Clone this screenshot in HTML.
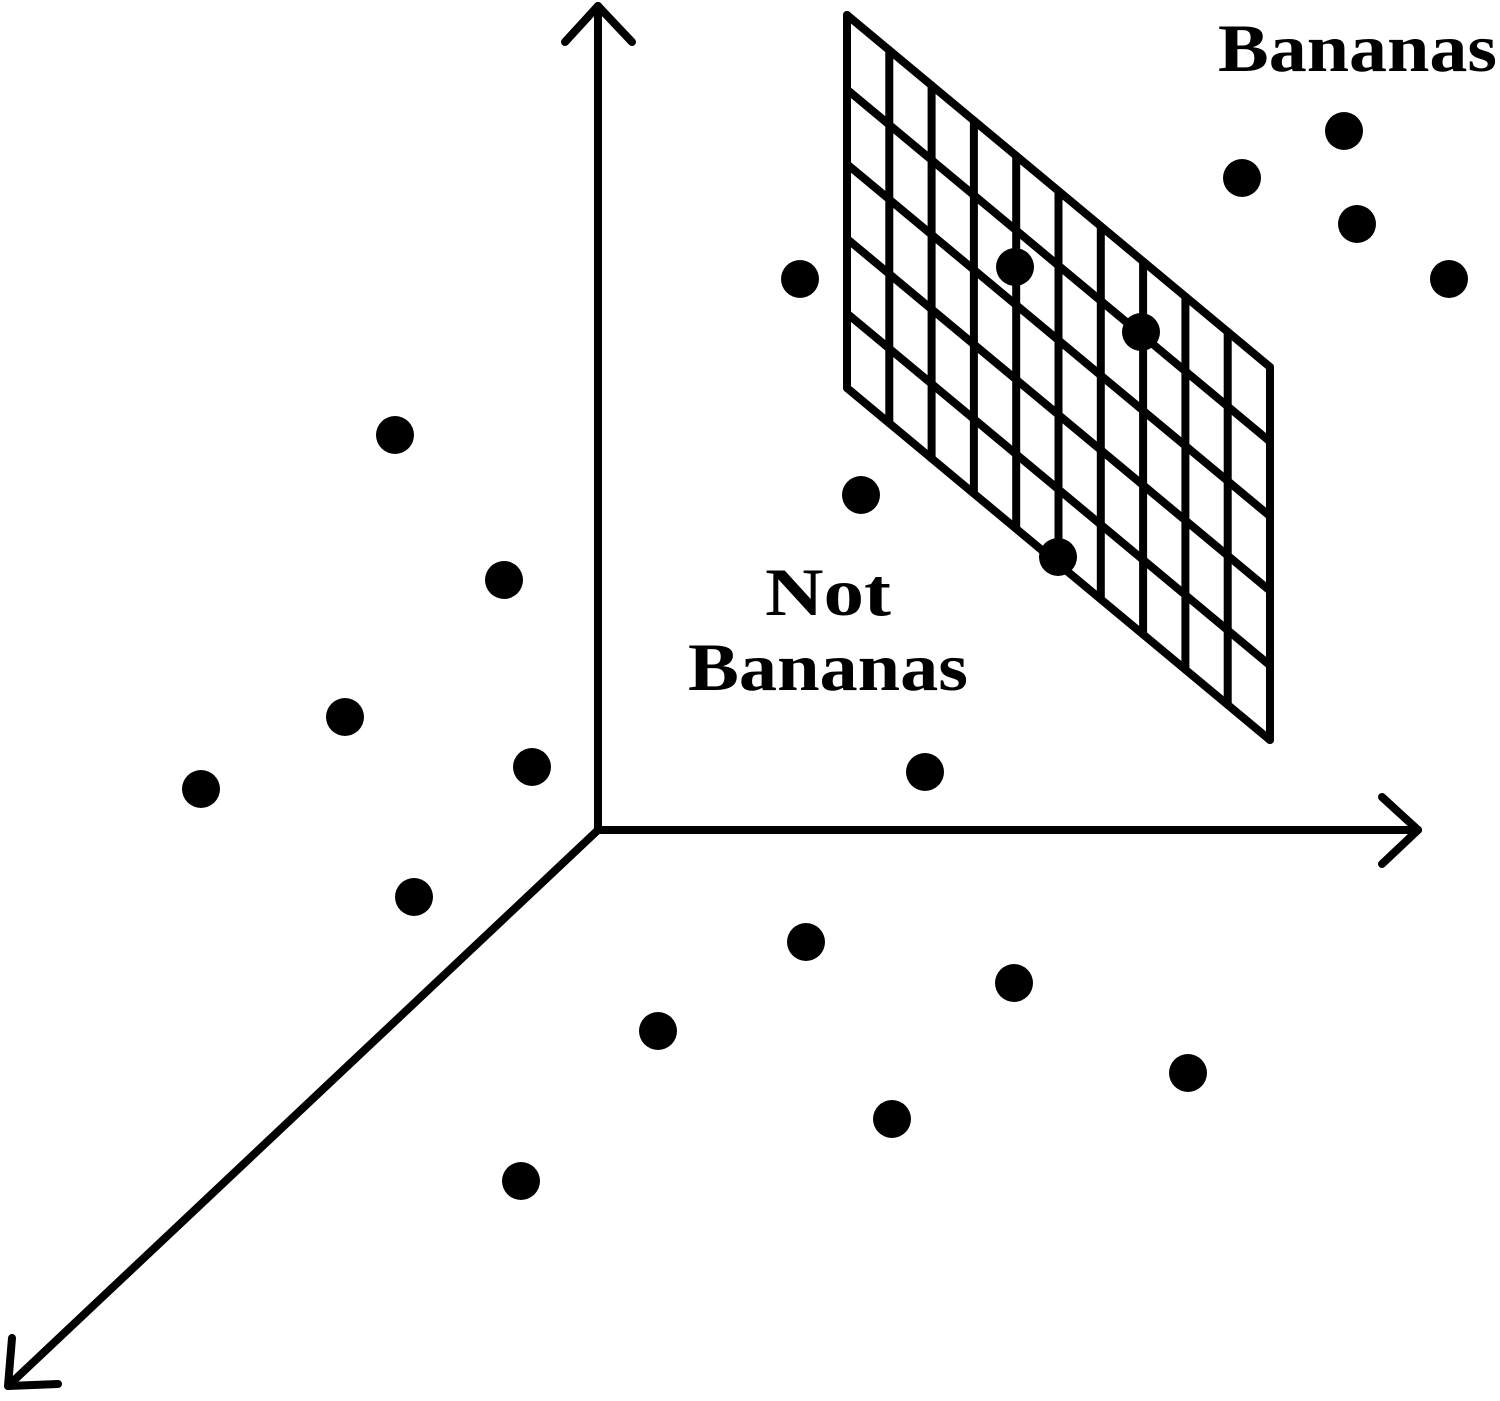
<!DOCTYPE html>
<html><head><style>html,body{margin:0;padding:0;background:#fff}</style></head>
<body>
<svg width="1500" height="1396" viewBox="0 0 1500 1396" xmlns="http://www.w3.org/2000/svg">
<g stroke="#000" stroke-width="8" fill="none" stroke-linecap="round" stroke-linejoin="round">
<line x1="598" y1="830" x2="598" y2="6"/>
<polyline points="565,42 598,6 632,42"/>
<line x1="598" y1="830" x2="1418" y2="830"/>
<polyline points="1382,797 1418,830 1382,864"/>
<line x1="598" y1="830" x2="8" y2="1386"/>
<polyline points="12,1338 8,1386 58,1384"/>
<g id="grid">
<line x1="847" y1="15" x2="847" y2="388"/>
<line x1="889.3" y1="50.2" x2="889.3" y2="423.2"/>
<line x1="931.6" y1="85.4" x2="931.6" y2="458.4"/>
<line x1="973.9" y1="120.6" x2="973.9" y2="493.6"/>
<line x1="1016.2" y1="155.8" x2="1016.2" y2="528.8"/>
<line x1="1058.5" y1="191" x2="1058.5" y2="564"/>
<line x1="1100.8" y1="226.2" x2="1100.8" y2="599.2"/>
<line x1="1143.1" y1="261.4" x2="1143.1" y2="634.4"/>
<line x1="1185.4" y1="296.6" x2="1185.4" y2="669.6"/>
<line x1="1227.7" y1="331.8" x2="1227.7" y2="704.8"/>
<line x1="1270" y1="367" x2="1270" y2="740"/>
<line x1="847" y1="15" x2="1270" y2="367"/>
<line x1="847" y1="89.6" x2="1270" y2="441.6"/>
<line x1="847" y1="164.2" x2="1270" y2="516.2"/>
<line x1="847" y1="238.8" x2="1270" y2="590.8"/>
<line x1="847" y1="313.4" x2="1270" y2="665.4"/>
<line x1="847" y1="388" x2="1270" y2="740"/>
</g>
</g>
<g fill="#000">
<circle cx="1344" cy="131" r="19"/><circle cx="1242" cy="178" r="19"/><circle cx="1357" cy="224" r="19"/><circle cx="1449" cy="279" r="19"/>
<circle cx="800" cy="279" r="19"/><circle cx="1015" cy="267" r="19"/><circle cx="1141" cy="332" r="19"/><circle cx="395" cy="435" r="19"/>
<circle cx="861" cy="495" r="19"/><circle cx="504" cy="580" r="19"/><circle cx="1058" cy="557" r="19"/><circle cx="345" cy="717" r="19"/>
<circle cx="532" cy="767" r="19"/><circle cx="201" cy="789" r="19"/><circle cx="925" cy="772" r="19"/><circle cx="414" cy="897" r="19"/>
<circle cx="806" cy="942" r="19"/><circle cx="1014" cy="983" r="19"/><circle cx="658" cy="1031" r="19"/><circle cx="1188" cy="1073" r="19"/>
<circle cx="892" cy="1119" r="19"/><circle cx="521" cy="1181" r="19"/>
</g>
<g font-family="Liberation Serif, serif" font-size="68" font-weight="bold" fill="#000">
<text x="1218" y="71" textLength="279" lengthAdjust="spacingAndGlyphs">Bananas</text>
<text x="765" y="615" textLength="126" lengthAdjust="spacingAndGlyphs">Not</text>
<text x="688" y="690" textLength="280" lengthAdjust="spacingAndGlyphs">Bananas</text>
</g>
</svg>
</body></html>
